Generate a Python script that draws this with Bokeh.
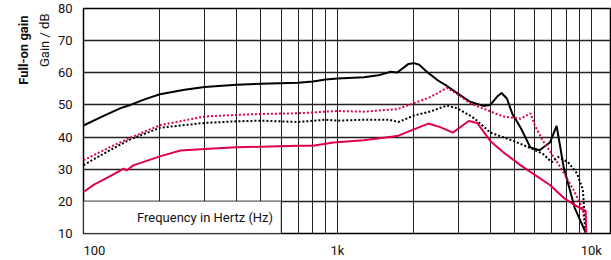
from bokeh.plotting import figure
from bokeh.models import FixedTicker, Label, BoxAnnotation, Range1d, Title
from bokeh.embed import file_html
from bokeh.resources import INLINE

# ---- data ----
bs_f = [100, 120, 140, 153, 175, 200, 250, 300, 400, 500, 700, 800, 900, 1000, 1270, 1450, 1620,
        1720, 1900, 2000, 2100, 2260, 2490, 2700, 2980, 3330, 3760, 4000, 4260, 4430, 4650, 4900,
        5000, 5300, 5750, 6250, 6870, 7300, 7780, 8600, 9500]
bs_db = [43.6, 46.6, 49.0, 50.0, 51.8, 53.3, 54.7, 55.6, 56.3, 56.6, 56.9, 57.3, 57.9, 58.2, 58.6,
         59.2, 60.3, 60.1, 62.7, 63.0, 62.5, 60.2, 57.6, 55.9, 53.5, 51.0, 49.7, 50.0, 52.6, 53.7,
         52.0, 47.0, 45.9, 42.5, 36.8, 35.9, 38.3, 43.5, 30.7, 18.0, 10.3]

rd_f = [100, 125, 153, 200, 300, 400, 500, 700, 900, 1000, 1270, 1720, 2000, 2330, 2700, 2950, 3330,
        4000, 4500, 5270, 5760, 6000, 6440, 7550, 8490, 9260, 9500]
rd_db = [32.8, 36.6, 39.8, 43.7, 46.4, 46.9, 47.2, 47.4, 47.9, 48.1, 47.9, 48.7, 50.5, 52.5, 55.3,
         53.5, 50.5, 48.0, 46.4, 45.7, 47.4, 43.5, 38.9, 30.7, 23.7, 17.6, 10.3]

bd_f = [100, 125, 153, 200, 300, 400, 500, 700, 900, 1000, 1270, 1600, 1740, 2000, 2330, 2700, 2950,
        3330, 3500, 4000, 4900, 5870, 6440, 6980, 7400, 8100, 8780, 9260, 9500]
bd_db = [31.3, 35.6, 39.3, 42.9, 44.4, 44.9, 45.1, 44.7, 45.4, 45.1, 45.4, 45.4, 44.7, 46.7, 48.0,
         49.8, 49.0, 46.7, 45.5, 41.4, 38.9, 36.3, 34.8, 32.2, 33.8, 32.2, 28.7, 23.7, 10.3]

rs_f = [100, 110, 128, 144, 148, 157, 200, 241, 300, 400, 500, 700, 800, 965, 1270, 1720, 2000,
        2280, 2540, 2850, 3290, 3550, 4000, 4500, 5270, 5870, 6870, 7780, 8490, 9500, 9550]
rs_db = [22.9, 25.2, 27.9, 30.2, 29.6, 31.2, 34.0, 35.8, 36.3, 36.8, 37.0, 37.3, 37.3, 38.3, 39.0,
         40.3, 42.4, 44.2, 43.1, 41.4, 45.0, 44.4, 38.8, 35.3, 31.2, 28.7, 25.1, 21.1, 19.1, 17.0, 10.3]

y_ticks = [10, 20, 30, 40, 50, 60, 70, 80]
x_ticks = [100, 1000, 10000]
x_tick_labels = ["\u2007\u2007\u2007100", "1k", "10k"]
grid_x = [100, 200, 300, 400, 500, 600, 700, 800, 900, 1000, 2000, 3000, 4000, 5000, 6000, 7000,
          8000, 9000, 10000]

RED = "#e2004a"
FONT = "Roboto"

p = figure(x_axis_type="log", x_range=Range1d(100, 11900), y_range=Range1d(10, 80),
           width=611, height=260, min_border_left=83, min_border_right=1,
           min_border_top=8, min_border_bottom=22,
           output_backend="svg", toolbar_location=None)

p.outline_line_color = "black"
p.outline_line_width = 1.5
p.background_fill_color = "white"

p.xgrid.ticker = FixedTicker(ticks=grid_x)
p.xgrid.grid_line_color = "#222222"
p.xgrid.grid_line_width = 1
p.ygrid.ticker = FixedTicker(ticks=y_ticks)
p.ygrid.grid_line_color = "#222222"
p.ygrid.grid_line_width = 1.5

p.xaxis.ticker = FixedTicker(ticks=x_ticks)
p.xaxis.major_label_overrides = {t: l for t, l in zip(x_ticks, x_tick_labels)}
p.yaxis.ticker = FixedTicker(ticks=y_ticks)
for ax in (p.xaxis, p.yaxis):
    ax.axis_line_color = None
    ax.major_tick_line_color = None
    ax.minor_tick_line_color = None
    ax.major_label_text_font = FONT
    ax.major_label_text_font_size = "13px"
    ax.major_label_text_color = "#111111"
p.xaxis.major_label_standoff = 3
p.yaxis.major_label_standoff = 5

# curves
p.line(bs_f, bs_db, line_color="black", line_width=2)
p.line(rd_f, rd_db, line_color=RED, line_width=2, line_dash="2 2")
p.line(bd_f, bd_db, line_color="black", line_width=2, line_dash="2 2")
p.line(rs_f, rs_db, line_color=RED, line_width=2)

# frequency box
p.add_layout(BoxAnnotation(left=100, right=600, bottom=10, top=20, fill_color="white",
                           fill_alpha=1.0, line_color="black", line_width=1.5))
p.add_layout(Label(x=600, y=15, x_offset=-8, text="Frequency in Hertz (Hz)",
                   text_align="right", text_baseline="middle", text_font=FONT,
                   text_font_size="13px", text_color="#111111"))

# axis titles (top aligned)
p.add_layout(Title(text="Gain / dB", align="right", text_font=FONT, text_font_size="13px",
                   text_font_style="normal", text_color="#111111", standoff=6, offset=5), "left")
p.add_layout(Title(text="Full-on gain", align="right", text_font=FONT, text_font_size="13px",
                   text_font_style="bold", text_color="#111111", standoff=2, offset=7), "left")

open("out.html", "w").write(file_html(p, INLINE))
